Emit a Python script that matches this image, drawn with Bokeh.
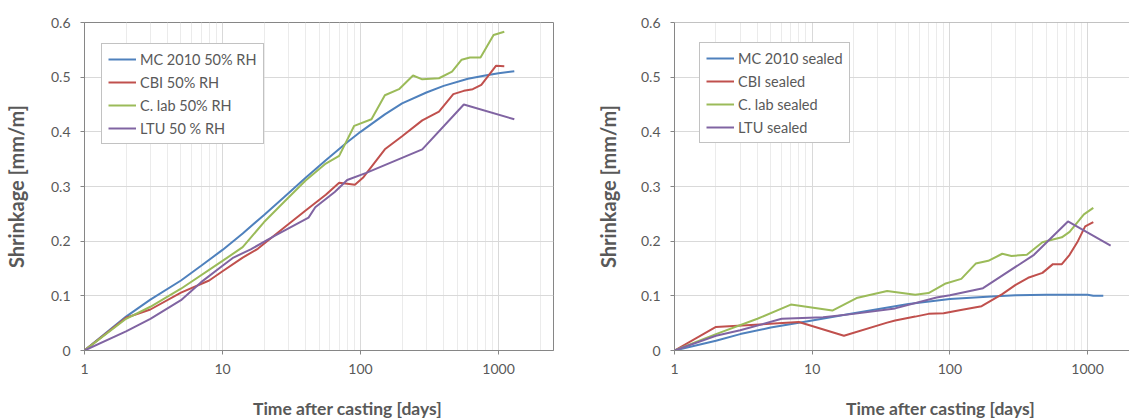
from bokeh.plotting import figure
from bokeh.layouts import row, column
from bokeh.models import (Range1d, FixedTicker, NumeralTickFormatter, Legend,
                          LegendItem, Span, Label)
from bokeh.embed import file_html
from bokeh.resources import INLINE

# ---------------- data ----------------
# Left panel: 50 % RH
mc_rh_x = [1, 2, 3, 5, 7, 10, 14, 20, 28, 40, 56, 80, 100, 150, 200, 300, 400, 600, 800, 1000, 1300]
mc_rh_y = [0, 0.062, 0.093, 0.128, 0.155, 0.184, 0.214, 0.248, 0.281, 0.316, 0.348, 0.381, 0.400,
           0.432, 0.452, 0.472, 0.484, 0.497, 0.503, 0.507, 0.511]

cbi_rh_x = [1, 2, 3, 5, 8, 10, 14, 18, 28, 40, 56, 70, 80, 91, 105, 150, 200, 280, 370, 470, 560,
            650, 750, 960, 1100]
cbi_rh_y = [0, 0.06, 0.075, 0.106, 0.128, 0.145, 0.170, 0.186, 0.225, 0.256, 0.285, 0.307, 0.305,
            0.303, 0.317, 0.368, 0.392, 0.421, 0.437, 0.469, 0.475, 0.478, 0.486, 0.521, 0.520]

clab_rh_x = [1, 2, 3, 5, 10, 14, 20, 28, 40, 56, 70, 90, 120, 150, 190, 240, 280, 370, 460, 540,
             620, 740, 920, 1100]
clab_rh_y = [0, 0.058, 0.080, 0.113, 0.164, 0.189, 0.235, 0.272, 0.311, 0.342, 0.356, 0.411, 0.423,
             0.467, 0.478, 0.503, 0.496, 0.498, 0.510, 0.532, 0.536, 0.536, 0.577, 0.583]

ltu_rh_x = [1, 2, 3, 5, 7, 10, 12, 16, 24, 42, 47, 65, 75, 80, 110, 280, 560, 1300]
ltu_rh_y = [0, 0.035, 0.058, 0.092, 0.125, 0.155, 0.170, 0.185, 0.210, 0.243, 0.262, 0.290, 0.305,
            0.312, 0.325, 0.368, 0.450, 0.423]

# Right panel: sealed
mc_s_x = [1, 2, 3, 5, 10, 20, 50, 100, 200, 300, 500, 1000, 1100, 1300]
mc_s_y = [0, 0.018, 0.030, 0.042, 0.055, 0.068, 0.085, 0.094, 0.099, 0.101, 0.102, 0.102, 0.100, 0.100]

cbi_s_x = [1, 2, 8, 17, 35, 40, 56, 70, 90, 120, 170, 240, 300, 370, 470, 560, 650, 740, 850, 960, 1100]
cbi_s_y = [0, 0.043, 0.052, 0.027, 0.051, 0.055, 0.062, 0.067, 0.068, 0.074, 0.081, 0.103, 0.120,
           0.133, 0.142, 0.158, 0.158, 0.175, 0.200, 0.227, 0.235]

clab_s_x = [1, 2, 4, 7, 14, 21, 35, 56, 70, 92, 121, 154, 190, 240, 280, 362, 470, 560, 650, 740, 940, 1100]
clab_s_y = [0, 0.030, 0.058, 0.084, 0.073, 0.096, 0.109, 0.102, 0.105, 0.122, 0.131, 0.159, 0.164,
            0.177, 0.173, 0.175, 0.198, 0.203, 0.207, 0.217, 0.249, 0.261]

ltu_s_x = [1, 2, 3, 6, 12, 20, 40, 80, 100, 174, 408, 720, 1470]
ltu_s_y = [0, 0.027, 0.037, 0.058, 0.061, 0.067, 0.077, 0.097, 0.101, 0.114, 0.175, 0.236, 0.192]

labels_rh = ["MC 2010 50% RH", "CBI 50% RH", "C. lab 50% RH", "LTU 50 % RH"]
labels_s = ["MC 2010 sealed", "CBI sealed", "C. lab sealed", "LTU sealed"]
colors = ["#4F81BD", "#C0504D", "#9BBB59", "#8064A2"]

x_ticks = [1, 10, 100, 1000]
x_minor = [m * d for d in (1, 10, 100, 1000) for m in range(2, 10)]
y_ticks = [0, 0.1, 0.2, 0.3, 0.4, 0.5, 0.6]

y_title = "Shrinkage [mm/m]"
x_title = "Time after casting [days]"

FONT = "Lato"
TXT = "#595959"
AX = "#868686"
H = 396


def make_fig(width, bl, br, xend, xs, ys, labels, leg_loc, y_standoff, outline):
    p = figure(width=width, height=H, x_axis_type="log",
               x_range=Range1d(1, xend), y_range=Range1d(0, 0.6),
               output_backend="svg", toolbar_location=None,
               min_border_left=bl, min_border_right=br,
               min_border_top=22, min_border_bottom=46)
    p.background_fill_color = "white"
    p.border_fill_color = "white"
    p.outline_line_color = AX if outline else None

    p.xaxis.ticker = FixedTicker(ticks=x_ticks, minor_ticks=x_minor)
    p.xaxis.formatter = NumeralTickFormatter(format="0")
    p.yaxis.ticker = FixedTicker(ticks=y_ticks)
    for ax in (p.xaxis, p.yaxis):
        ax.axis_line_color = AX
        ax.major_tick_line_color = AX
        ax.major_tick_out = 4
        ax.major_tick_in = 0
        ax.minor_tick_out = 0
        ax.minor_tick_in = 0
        ax.major_label_text_font = FONT
        ax.major_label_text_font_size = "14px"
        ax.major_label_text_color = TXT
    p.xaxis.major_label_standoff = 9
    p.yaxis.major_label_standoff = 10

    p.yaxis.axis_label = y_title
    p.yaxis.axis_label_standoff = y_standoff
    p.yaxis.axis_label_text_font = FONT
    p.yaxis.axis_label_text_font_size = "20px"
    p.yaxis.axis_label_text_font_style = "bold"
    p.yaxis.axis_label_text_color = TXT

    p.xgrid.grid_line_color = "#D9D9D9"
    p.xgrid.minor_grid_line_color = "#EBEBEB"
    p.ygrid.grid_line_color = "#D9D9D9"

    if not outline:
        p.add_layout(Span(location=0.6, dimension="width", line_color=AX, line_width=1))

    items = []
    for x, y, lab, c in zip(xs, ys, labels, colors):
        r = p.line(x, y, line_color=c, line_width=2)
        items.append(LegendItem(label=lab, renderers=[r]))

    leg = Legend(items=items, location=leg_loc, label_text_font=FONT,
                 label_text_font_size="14.5px", label_text_color=TXT,
                 border_line_color=AX, border_line_width=1,
                 background_fill_color="white", background_fill_alpha=1,
                 glyph_width=28, glyph_height=18, label_height=18,
                 spacing=5, padding=6, margin=0, label_standoff=4)
    p.add_layout(leg)
    return p


p1 = make_fig(560, 83, 7, 2500,
              [mc_rh_x, cbi_rh_x, clab_rh_x, ltu_rh_x],
              [mc_rh_y, cbi_rh_y, clab_rh_y, ltu_rh_y],
              labels_rh, (17, 206), 20, True)
p2 = make_fig(569, 114, 0, 2015,
              [mc_s_x, cbi_s_x, clab_s_x, ltu_s_x],
              [mc_s_y, cbi_s_y, clab_s_y, ltu_s_y],
              labels_s, (25, 207), 18, False)

# strip holding the two x-axis titles (placed like the reference, under each chart)
strip = figure(width=1129, height=22, output_backend="svg", toolbar_location=None,
               x_axis_type=None, y_axis_type=None, min_border=0,
               x_range=Range1d(0, 1129), y_range=Range1d(0, 22))
strip.outline_line_color = None
strip.background_fill_color = "white"
strip.border_fill_color = "white"
for xc in (347, 940):
    strip.add_layout(Label(x=xc, y=10, x_units="screen", y_units="screen", text=x_title,
                           text_font=FONT, text_font_size="17.5px", text_font_style="bold",
                           text_color=TXT, text_align="center", text_baseline="middle"))

layout = column(row(p1, p2), strip)
open("out.html", "w").write(file_html(layout, INLINE))
